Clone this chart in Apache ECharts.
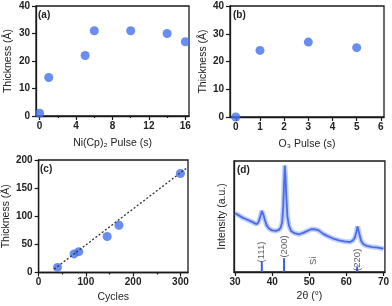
<!DOCTYPE html>
<html><head><meta charset="utf-8">
<script src="https://cdn.jsdelivr.net/npm/echarts@6/dist/echarts.min.js"></script>
<style>html,body{margin:0;padding:0;background:#fff}#c{width:392px;height:306px}</style>
</head><body><div id="c"></div>
<script>
// (a) Ni(Cp)2 pulse vs thickness
const niPulse = [0, 1, 5, 6, 10, 14, 16];
const niThick = [1, 14, 22, 31, 31, 30, 27];
// (b) O3 pulse vs thickness
const o3Pulse = [0, 1, 3, 5];
const o3Thick = [0, 24, 27, 25];
// (c) cycles vs thickness, with linear fit endpoints
const cycles = [40, 75, 85, 145, 170, 300];
const cycThick = [9, 33, 37, 64, 84, 176];
const fitX = [33, 312];
const fitY = [6, 185];
// (d) XRD pattern
const xrdTheta = [30, 31, 32, 33, 34, 35, 35.8, 36.3, 36.8, 37.2, 37.6, 38.0, 38.5, 39.2, 40, 41, 41.8, 42.3, 42.7, 43.0, 43.2, 43.4, 43.6, 43.8, 44.1, 44.5, 45.1, 46, 47.3, 48.5, 49.5, 50.5, 51.5, 52.5, 53.5, 54.5, 55.5, 56.5, 58, 59.5, 61, 61.8, 62.3, 62.7, 63.0, 63.3, 63.6, 64, 64.6, 65.5, 67, 68.5, 70];
const xrdInt = [53, 51, 49, 47.5, 46, 44.5, 43, 45, 50, 55, 52, 47, 42, 39, 37.5, 37, 38, 40, 45, 60, 80, 96, 85, 68, 50, 42, 37, 35, 34, 35.5, 37, 38.5, 38.5, 37.5, 35, 33, 31.5, 30, 28.5, 27.5, 27, 28.5, 31, 36, 41, 40, 33, 28, 25, 23.5, 22.5, 22, 21];
const refTheta = [37.2, 43.2, 62.9];
const refHeight = [9, 12.5, 5];
const refLabel = ['(111)', '(200)', '(220)'];
const refLabelY = [18, 23, 11];
const siLabel = 'Si';
const siTheta = 51.1;
const siY = 10;
// tick values
const aXTicks = [0, 4, 8, 12, 16];
const aXMinor = [2, 6, 10, 14];
const thickTicks = [0, 10, 20, 30, 40];
const bXTicks = [0, 1, 2, 3, 4, 5, 6];
const cXTicks = [0, 100, 200, 300];
const cXMinor = [50, 150, 250];
const cYTicks = [0, 50, 100, 150, 200];
const dXTicks = [30, 40, 50, 60, 70];

const BLUE = '#4470ec';
const INK = '#1a1a1a';
const tickFont = {color: '#222', fontSize: 10, fontWeight: 'bold', fontFamily: 'Liberation Sans'};
const nameFont = {color: '#222', fontSize: 10.5, fontFamily: 'Liberation Sans'};

function xAx(grid, min, max, ticks, name, gap, extra) {
  return Object.assign({
    type: 'value', gridIndex: grid, min: min, max: max, name: name,
    nameLocation: 'middle', nameGap: gap, nameTextStyle: nameFont,
    axisLine: {show: true, onZero: false, lineStyle: {color: INK, width: 1.3}},
    axisTick: {show: true, length: 4, customValues: ticks, lineStyle: {color: INK, width: 1.2}},
    axisLabel: {show: true, margin: 5, customValues: ticks, ...tickFont},
    splitLine: {show: false}
  }, extra || {});
}
function minorAx(grid, min, max, ticks) {
  return {
    type: 'value', gridIndex: grid, min: min, max: max, position: 'bottom',
    axisLine: {show: false},
    axisTick: {show: true, length: 2, customValues: ticks, lineStyle: {color: INK, width: 1.2}},
    axisLabel: {show: false}, splitLine: {show: false}
  };
}
function yAx(grid, min, max, ticks, name, gap, extra) {
  return Object.assign({
    type: 'value', gridIndex: grid, min: min, max: max, name: name,
    nameLocation: 'middle', nameGap: gap, nameTextStyle: nameFont,
    axisLine: {show: true, onZero: false, lineStyle: {color: INK, width: 1.3}},
    axisTick: {show: true, length: 4, customValues: ticks, lineStyle: {color: INK, width: 1.2}},
    axisLabel: {show: true, margin: 6, customValues: ticks, ...tickFont},
    splitLine: {show: false}
  }, extra || {});
}
const zip = (a, b) => a.map((v, i) => [v, b[i]]);
const gridStyle = {show: true, borderColor: INK, borderWidth: 1.3, backgroundColor: 'transparent'};

const chart = echarts.init(document.getElementById('c'), null, {renderer: 'canvas'});
chart.setOption({
  animation: false,
  backgroundColor: '#fff',
  grid: [
    Object.assign({left: 36, top: 6, width: 153, height: 110}, gridStyle),
    Object.assign({left: 230, top: 6, width: 154, height: 111}, gridStyle),
    Object.assign({left: 38, top: 160, width: 150, height: 112.5}, gridStyle),
    Object.assign({left: 234, top: 161, width: 153, height: 111}, gridStyle)
  ],
  xAxis: [
    xAx(0, -0.4, 16.4, aXTicks, 'Ni(Cp)\u2082 Pulse (s)', 22),
    xAx(1, -0.24, 6.13, bXTicks, 'O\u2083 Pulse (s)', 22),
    xAx(2, 0, 316, cXTicks, 'Cycles', 19),
    xAx(3, 29.7, 70.4, dXTicks, '2\u03b8 (\u00b0)', 19),
    minorAx(0, -0.4, 16.4, aXMinor),
    minorAx(2, 0, 316, cXMinor)
  ],
  yAxis: [
    yAx(0, 0, 40, thickTicks, 'Thickness (\u00c5)', 22),
    yAx(1, 0, 40, thickTicks, 'Thickness (\u00c5)', 20),
    yAx(2, 0, 200, cYTicks, 'Thickness (\u00c5)', 25),
    yAx(3, 0, 100, [], 'Intensity (a.u.)', 6, {axisTick: {show: false}, axisLabel: {show: false}})
  ],
  series: [
    {type: 'scatter', xAxisIndex: 0, yAxisIndex: 0, data: zip(niPulse, niThick), symbolSize: 9, itemStyle: {color: BLUE}, z: 5},
    {type: 'scatter', xAxisIndex: 1, yAxisIndex: 1, data: zip(o3Pulse, o3Thick), symbolSize: 9, itemStyle: {color: BLUE}, z: 5},
    {type: 'scatter', xAxisIndex: 2, yAxisIndex: 2, data: zip(cycles, cycThick), symbolSize: 9, itemStyle: {color: BLUE}, z: 5},
    {type: 'line', xAxisIndex: 2, yAxisIndex: 2, data: zip(fitX, fitY), showSymbol: false, symbol: 'none',
      lineStyle: {color: '#333', width: 1.3, type: [2, 2]}, z: 6},
    {type: 'line', xAxisIndex: 3, yAxisIndex: 3, data: zip(xrdTheta, xrdInt), symbol: 'none',
      lineStyle: {color: 'rgba(95,130,242,0.4)', width: 5}, z: 3},
    {type: 'line', xAxisIndex: 3, yAxisIndex: 3, data: zip(xrdTheta, xrdInt), symbol: 'none',
      lineStyle: {color: '#4a6cec', width: 1.8}, z: 4},
    {type: 'bar', xAxisIndex: 3, yAxisIndex: 3, data: zip(refTheta, refHeight), barWidth: 2,
      itemStyle: {color: '#3a5fe6'}, z: 4},
    {type: 'scatter', xAxisIndex: 3, yAxisIndex: 3, symbolSize: 0,
      data: refTheta.map((t, i) => ({value: [t, refLabelY[i]], name: refLabel[i]}))
        .concat([{value: [siTheta, siY], name: siLabel}]),
      label: {show: true, position: 'inside', rotate: 90, formatter: p => p.name,
        color: '#333', fontSize: 9.5, fontFamily: 'Liberation Sans'}, z: 5}
  ],
  graphic: [
    {type: 'text', left: 38, top: 10, style: {text: '(a)', fontSize: 10, fontWeight: 'bold', fontFamily: 'Liberation Sans', fill: '#222'}},
    {type: 'text', left: 233, top: 10, style: {text: '(b)', fontSize: 10, fontWeight: 'bold', fontFamily: 'Liberation Sans', fill: '#222'}},
    {type: 'text', left: 40, top: 164, style: {text: '(c)', fontSize: 10, fontWeight: 'bold', fontFamily: 'Liberation Sans', fill: '#222'}},
    {type: 'text', left: 237, top: 165, style: {text: '(d)', fontSize: 10, fontWeight: 'bold', fontFamily: 'Liberation Sans', fill: '#222'}}
  ]
});
</script>
</body></html>
